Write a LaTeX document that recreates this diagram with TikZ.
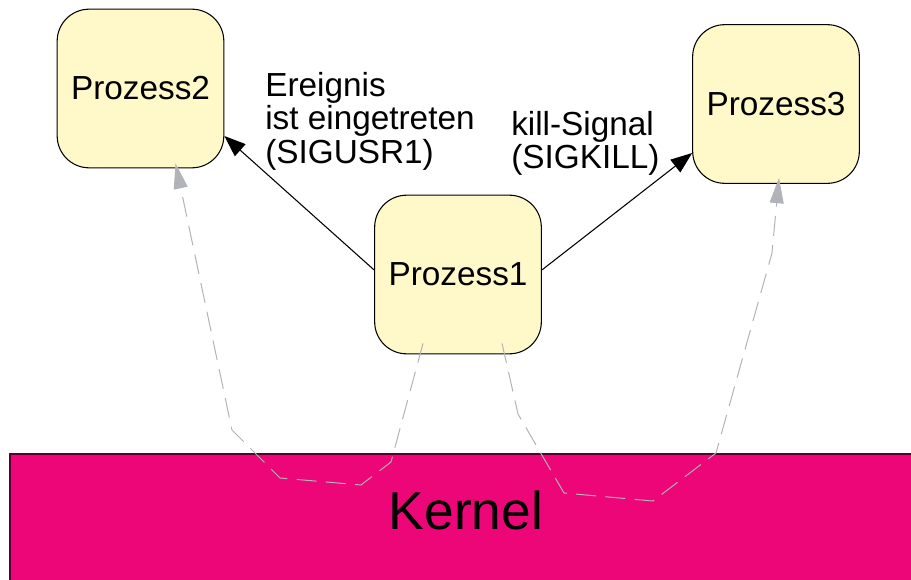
\documentclass[tikz,border=0pt]{standalone}
\usepackage{fontspec}
\setmainfont{Liberation Sans}
\usetikzlibrary{arrows.meta,calc}
\definecolor{procfill}{HTML}{FFF8C8}
\definecolor{kernfill}{HTML}{EC0678}
\definecolor{kerndark}{HTML}{5A0030}
\definecolor{sysgray}{HTML}{B2B3B8}
\begin{document}
\begin{tikzpicture}[x=0.75pt,y=-0.75pt,
  proc/.style={draw=black, fill=procfill, rounded corners=24pt, minimum width=125pt, minimum height=119pt, font=\fontsize{25}{25}\selectfont, line width=0.8pt, inner sep=0pt},
  kernelbox/.style={draw=kerndark, fill=kernfill, line width=1.5pt, inner sep=0pt, anchor=north west, minimum width=700pt, minimum height=110pt},
  kerneltext/.style={font=\fontsize{40}{40}\selectfont, inner sep=0pt},
  sig/.style={-{Triangle[length=16pt,width=12pt]}, line width=0.8pt},
  sys/.style={draw=sysgray, line width=0.75pt, dash pattern=on 15pt off 7pt, -{Triangle[length=19pt,width=10.5pt,fill=sysgray]}},
  lbla/.style={align=left, font=\fontsize{25}{25}\selectfont, inner sep=0pt, anchor=base west},
  lblb/.style={align=left, font=\fontsize{25}{23.25}\selectfont, inner sep=0pt, anchor=base west}]
\useasboundingbox (0,0) rectangle (911,579);
\node[kernelbox] (kernel) at (9,453) {};
\node[kerneltext] (kt) at (466,510) {Kernel};
\node[proc] (p2) at (140.5,88.5) {Prozess2};
\node[proc] (p3) at (776,104) {Prozess3};
\node[proc] (p1) at (458,274.5) {Prozess1};
\draw[sig] ($(p1.west)+(0,-4.5)$) -- ($(p2.east)+(0,47.5)$);
\draw[sig] ($(p1.east)+(0,-4.5)$) -- ($(p3.west)+(0,49)$);
\node[lbla] (l1) at (265,163) {Ereignis\\ist eingetreten\\(SIGUSR1)};
\node[lblb] (l2) at (511,168) {kill-Signal\\(SIGKILL)};
\draw[sys] ($(p1.south)+(-35,-11)$) -- (391,462) -- (361,485) -- (280,478) -- (232,430) -- ($(p2.south)+(35,-5)$);
\draw[sys] ($(p1.south)+(44,-11)$) -- (518,414) -- (564,493) -- (653,501) -- (716,453) -- (772,253) -- ($(p3.south)+(3,-6)$);
\end{tikzpicture}
\end{document}
